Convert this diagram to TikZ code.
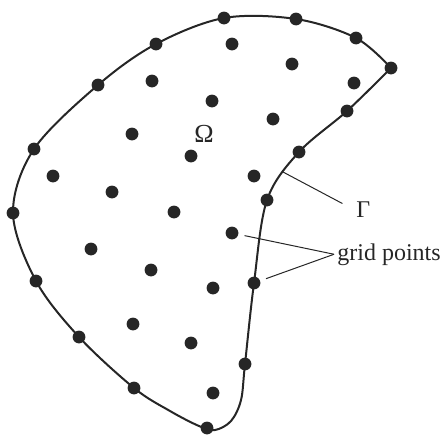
\documentclass[tikz,border=0pt]{standalone}
\usepackage{fontspec}
\setmainfont{Liberation Serif}
\usetikzlibrary{positioning, calc}
\definecolor{cInk}{HTML}{262626}
\tikzset{
  gridpt/.style={
    circle, fill=cInk, draw=none,
    inner sep=0pt, minimum size=6.4pt
  },
  boundary/.style={
    draw=cInk, line width=1pt, line join=round
  },
  leader/.style={
    draw=cInk, line width=0.5pt
  },
  lbl/.style={
    text=cInk, inner sep=1.5pt,
    font=\fontsize{12}{14}\selectfont
  }
}

\begin{document}
\begin{tikzpicture}[x=0.5pt, y=-0.5pt]
  \useasboundingbox (0,0) rectangle (443,434);

  % the domain boundary Gamma, with its tip at the right
  \draw[boundary] plot[smooth, tension=0.55] coordinates {
    (391,68) (347,111) (299,152) (267,200) (254,283) (245,364)
    (241,400) (231,421) (215,430) (199,426) (170,411) (134,388) (79,337)
    (36,281) (13,213) (34,149) (98,85) (156,44) (224,18) (296,19)
    (356,38) (391,68)};
  \coordinate (gam) at (283,172);

  % grid points on the boundary
  \node[gridpt] (b1) at (224,18) {};
  \node[gridpt] (b2) at (296,19) {};
  \node[gridpt] (b3) at (356,38) {};
  \node[gridpt] (b4) at (391,68) {};
  \node[gridpt] (b5) at (347,111) {};
  \node[gridpt] (b6) at (299,152) {};
  \node[gridpt] (b7) at (267,200) {};
  \node[gridpt] (b8) at (254,283) {};
  \node[gridpt] (b9) at (245,364) {};
  \node[gridpt] (b10) at (207,428) {};
  \node[gridpt] (b11) at (134,388) {};
  \node[gridpt] (b12) at (79,337) {};
  \node[gridpt] (b13) at (36,281) {};
  \node[gridpt] (b14) at (13,213) {};
  \node[gridpt] (b15) at (34,149) {};
  \node[gridpt] (b16) at (98,85) {};
  \node[gridpt] (b17) at (156,44) {};

  % grid points inside Omega
  \node[gridpt] (p1) at (232,44) {};
  \node[gridpt] (p2) at (292,64) {};
  \node[gridpt] (p3) at (152,81) {};
  \node[gridpt] (p4) at (354,83) {};
  \node[gridpt] (p5) at (212,101) {};
  \node[gridpt] (p6) at (273,119) {};
  \node[gridpt] (p7) at (132,134) {};
  \node[gridpt] (p8) at (191,156) {};
  \node[gridpt] (p9) at (53,176) {};
  \node[gridpt] (p10) at (254,176) {};
  \node[gridpt] (p11) at (112,192) {};
  \node[gridpt] (p12) at (174,212) {};
  \node[gridpt] (p13) at (232,233) {};
  \node[gridpt] (p14) at (91,249) {};
  \node[gridpt] (p15) at (151,270) {};
  \node[gridpt] (p16) at (213,288) {};
  \node[gridpt] (p17) at (133,324) {};
  \node[gridpt] (p18) at (191,343) {};
  \node[gridpt] (p19) at (213,393) {};

  % labels
  \node[lbl, font=\fontsize{13}{15}\selectfont] (omega) at (204,134) {Ω};
  \node[lbl, anchor=base west] (gamma) at (353,217) {Γ};
  \node[lbl, anchor=base west] (grid) at (334,260) {grid points};

  \draw[leader, shorten >=6pt] (gam) -- (gamma.west);
  \draw[leader, shorten <=3pt] (p13) -- (grid.west);
  \draw[leader, shorten <=3pt] (b8) -- (grid.west);
\end{tikzpicture}
\end{document}
